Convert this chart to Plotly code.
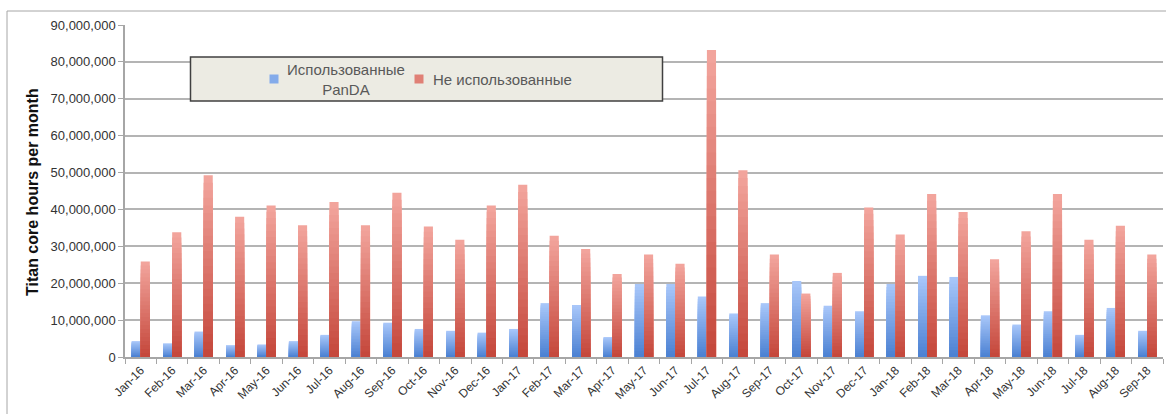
import plotly.graph_objects as go

months = ["Jan-16", "Feb-16", "Mar-16", "Apr-16", "May-16", "Jun-16", "Jul-16", "Aug-16",
          "Sep-16", "Oct-16", "Nov-16", "Dec-16", "Jan-17", "Feb-17", "Mar-17", "Apr-17",
          "May-17", "Jun-17", "Jul-17", "Aug-17", "Sep-17", "Oct-17", "Nov-17", "Dec-17",
          "Jan-18", "Feb-18", "Mar-18", "Apr-18", "May-18", "Jun-18", "Jul-18", "Aug-18", "Sep-18"]

used_panda = [4.3, 3.7, 6.9, 3.2, 3.4, 4.3, 6.0, 9.7, 9.3, 7.6, 7.1, 6.6,
              7.6, 14.6, 14.1, 5.4, 19.8, 19.8, 16.4, 11.8, 14.6, 20.6, 13.9,
              12.4, 19.8, 22.0, 21.7, 11.3, 8.8, 12.4, 6.0, 13.3, 7.1]
not_used = [25.9, 33.8, 49.3, 38.0, 41.1, 35.7, 42.0, 35.7, 44.5, 35.4, 31.8, 41.1,
            46.7, 32.9, 29.3, 22.5, 27.8, 25.3, 83.2, 50.6, 27.8, 17.2, 22.8,
            40.5, 33.2, 44.2, 39.3, 26.5, 34.1, 44.2, 31.8, 35.6, 27.8]
used_panda = [v * 1e6 for v in used_panda]
not_used = [v * 1e6 for v in not_used]

series_names = ["Использованные<br>PanDA", "Не использованные"]
y_title = "Titan core hours per month"

W, H = 1166, 414
L, R, T, B = 125, 1163, 25, 357


def px(x):
    return (x - L) / (R - L)


def py(y):
    return (B - y) / (B - T)


def lerp(c1, c2, t):
    return "rgb(%d,%d,%d)" % tuple(round(a + (b - a) * t) for a, b in zip(c1, c2))


blue_bot, blue_top = (74, 128, 210), (170, 200, 250)
red_bot, red_top = (196, 70, 58), (243, 166, 158)

N = 24
fig = go.Figure()
for vals, cb, ct, off in [(used_panda, blue_bot, blue_top, -0.29), (not_used, red_bot, red_top, 0.0)]:
    for k in range(N):
        frac = (N - k) / N
        t = (N - k - 0.5) / N
        fig.add_trace(go.Bar(
            x=months, y=[v * frac for v in vals],
            offset=off, width=0.29,
            marker=dict(color=lerp(cb, ct, t), line=dict(width=0)),
            showlegend=False, hoverinfo="skip"))

fig.update_layout(
    width=W, height=H,
    margin=dict(l=L, r=W - R, t=T, b=H - B),
    barmode="overlay",
    plot_bgcolor="white", paper_bgcolor="white",
    font=dict(family="Liberation Sans, Arial, sans-serif", color="#333333"),
)
fig.update_xaxes(
    type="category", tickson="boundaries", ticks="outside", ticklen=5,
    tickcolor="#a6a6a6", showline=True, linecolor="#a6a6a6", linewidth=1.5,
    tickangle=-45, tickfont=dict(size=12, color="#333333"), showgrid=False,
)
fig.update_yaxes(
    range=[0, 90e6], dtick=10e6, tickformat=",d", showgrid=True,
    gridcolor="#b4b4b4", gridwidth=1.5, zeroline=False,
    showline=True, linecolor="#a6a6a6", linewidth=1.5,
    ticks="outside", ticklen=5, tickcolor="#a6a6a6",
    tickfont=dict(size=13, color="#333333"),
)

shapes = [
    dict(type="rect", xref="paper", yref="paper", x0=px(7), x1=px(1175), y0=py(425), y1=py(11),
         line=dict(color="#a6a6a6", width=1), fillcolor="rgba(0,0,0,0)", layer="below"),
    dict(type="rect", xref="paper", yref="paper", x0=px(190.5), x1=px(662.5), y0=py(101), y1=py(57),
         line=dict(color="#404040", width=1.5), fillcolor="#ecebe3", layer="above"),
    dict(type="rect", xref="paper", yref="paper", x0=px(269.5), x1=px(278.5), y0=py(83.5), y1=py(74.5),
         line=dict(width=0), fillcolor=lerp(blue_bot, blue_top, 0.6), layer="above"),
    dict(type="rect", xref="paper", yref="paper", x0=px(414.5), x1=px(423.5), y0=py(83.5), y1=py(74.5),
         line=dict(width=0), fillcolor=lerp(red_bot, red_top, 0.6), layer="above"),
]
annotations = [
    dict(text=series_names[0], xref="paper", yref="paper", x=px(345.5), y=py(80),
         xanchor="center", yanchor="middle", align="center", showarrow=False,
         font=dict(size=15, color="#595959")),
    dict(text=series_names[1], xref="paper", yref="paper", x=px(431), y=py(79),
         xanchor="left", yanchor="middle", showarrow=False,
         font=dict(size=15, color="#595959")),
    dict(text="<b>" + y_title + "</b>", xref="paper", yref="paper", x=px(32), y=py(192),
         xanchor="center", yanchor="middle", textangle=-90, showarrow=False,
         font=dict(size=16, color="#111111")),
]
fig.update_layout(shapes=shapes, annotations=annotations)

fig.write_html("out.html")
